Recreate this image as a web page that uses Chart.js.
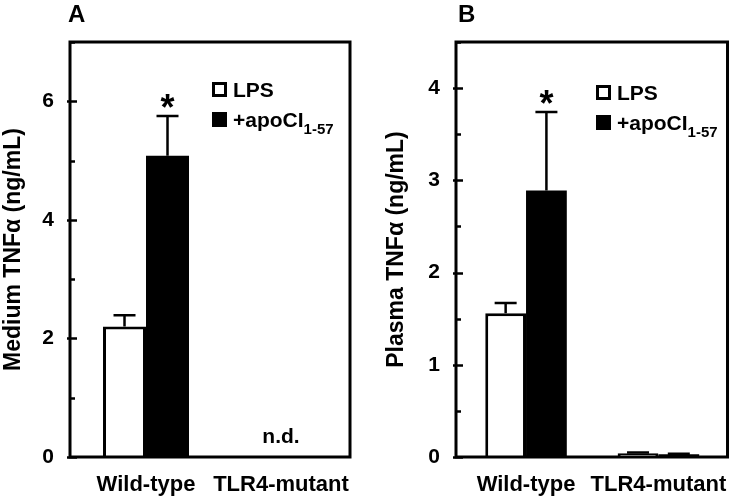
<!DOCTYPE html>
<html>
<head>
<meta charset="utf-8">
<script src="https://cdn.jsdelivr.net/npm/chart.js@4.4.0/dist/chart.umd.min.js"></script>
<style>
  body { margin: 0; background: #fff; }
  #wrap { position: relative; width: 742px; height: 497px; }
  canvas { position: absolute; top: 0; }
  #cA { left: 0; }
  #cB { left: 371px; }
</style>
</head>
<body>
<div id="wrap">
  <canvas id="cA" width="371" height="497"></canvas>
  <canvas id="cB" width="371" height="497"></canvas>
</div>
<script>
//data
var categories = ["Wild-type", "TLR4-mutant"];
var categoryPos = [0, 1];
var seriesNames = ["LPS", "+apoCI"];
var seriesSub = ["", "1-57"];

//panel A: medium TNFa (ng/mL)
var mediumLps = [2.2, 0];
var mediumLpsErr = [0.19, 0];
var mediumApo = [5.08, 0];
var mediumApoErr = [0.67, 0];

//panel B: plasma TNFa (ng/mL)
var plasmaLps = [1.56, 0.04];
var plasmaLpsErr = [0.11, 0.01];
var plasmaApo = [2.89, 0.03];
var plasmaApoErr = [0.85, 0.005];

var FONT = "'Liberation Sans', Arial, sans-serif";

//pair category positions with values
toPoints = function( vals ){
    return vals.map(function( v, i ){ return { x: categoryPos[i], y: v }; });
}

//draws box, tick marks, error bars, asterisks, legend and panel letter
var panelPlugin = {
    id: "panel",
    afterDatasetsDraw: function( chart, args, opts ){
        var ctx = chart.ctx, area = chart.chartArea;
        var y = chart.scales.y, x = chart.scales.x;
        ctx.save();

        //error bars (upper only)
        ctx.strokeStyle = "#000";
        ctx.lineWidth = 2.5;
        chart.data.datasets.forEach(function( ds, di ){
            var meta = chart.getDatasetMeta( di );
            meta.data.forEach(function( bar, i ){
                var err = ds.errors[i];
                if( !err || !ds.values[i] ) return;
                var top = y.getPixelForValue( ds.values[i] + err );
                ctx.beginPath();
                ctx.moveTo( bar.x, bar.y );
                ctx.lineTo( bar.x, top );
                ctx.moveTo( bar.x - 11, top );
                ctx.lineTo( bar.x + 11, top );
                ctx.stroke();
            });
        });

        //asterisks
        ctx.fillStyle = "#000";
        ctx.textAlign = "center";
        ctx.textBaseline = "alphabetic";
        ctx.font = "bold 36px " + FONT;
        opts.stars.forEach(function( s ){
            var ds = chart.data.datasets[s[0]];
            var bar = chart.getDatasetMeta( s[0] ).data[s[1]];
            var top = y.getPixelForValue( ds.values[s[1]] + ds.errors[s[1]] );
            ctx.fillText( "*", bar.x, top + 4 );
        });

        //n.d. label
        if( opts.nd ){
            ctx.font = "bold 21px " + FONT;
            ctx.fillText( "n.d.", x.getPixelForValue( categoryPos[1] ), y.getPixelForValue( 0 ) - 14 );
        }

        //plot box
        ctx.lineWidth = 3;
        ctx.strokeRect( area.left, area.top, area.right - area.left, area.bottom - area.top );

        //tick marks pointing inward
        ctx.lineWidth = 2.5;
        y.ticks.forEach(function( t ){
            var py = Math.round( y.getPixelForValue( t.value ) ) + 0.5;
            var major = t.label !== "";
            ctx.beginPath();
            ctx.moveTo( area.left - ( major ? 3 : 0 ), py );
            ctx.lineTo( area.left + ( major ? 7 : 5 ), py );
            ctx.stroke();
        });

        //legend
        var lx = opts.legendX, ly = opts.legendY;
        ctx.lineWidth = 3;
        ctx.strokeRect( lx + 1.5, ly + 1.5, 12, 12 );
        ctx.fillRect( lx, ly + 30, 15, 15 );
        ctx.textAlign = "left";
        ctx.font = "bold 21px " + FONT;
        ctx.fillText( seriesNames[0], lx + 21, ly + 15 );
        ctx.fillText( seriesNames[1], lx + 21, ly + 45 );
        var w = ctx.measureText( seriesNames[1] ).width;
        ctx.font = "bold 15px " + FONT;
        ctx.fillText( seriesSub[1], lx + 21 + w, ly + 52 );

        //panel letter
        ctx.font = "bold 24px " + FONT;
        ctx.fillText( opts.letter, opts.letterX, 22 );

        ctx.restore();
    }
};

//build one panel
makePanel = function( id, lps, lpsErr, apo, apoErr, yMax, yStep, yTitle, layout, panel ){
    return new Chart( document.getElementById( id ).getContext( "2d" ), {
        type: "bar",
        data: {
            datasets: [{
                label: seriesNames[0],
                data: toPoints( lps ),
                values: lps,
                errors: lpsErr,
                backgroundColor: "#fff",
                borderColor: "#000",
                borderWidth: 3
            },{
                label: seriesNames[1],
                data: toPoints( apo ),
                values: apo,
                errors: apoErr,
                backgroundColor: "#000",
                borderColor: "#000",
                borderWidth: 0
            }]
        },
        options: {
            responsive: false,
            animation: false,
            events: [],
            layout: { padding: { left: layout.padLeft, top: 42, right: layout.padRight, bottom: 0 } },
            datasets: { bar: { barPercentage: 1, categoryPercentage: layout.groupPct } },
            plugins: {
                legend: { display: false },
                tooltip: { enabled: false },
                panel: panel
            },
            scales: {
                x: {
                    type: "linear",
                    offset: false,
                    min: layout.xMin,
                    max: layout.xMax,
                    grid: { display: false, drawTicks: false, offset: false },
                    border: { display: false },
                    afterBuildTicks: function( s ){
                        s.ticks = categoryPos.map(function( v ){ return { value: v }; });
                    },
                    ticks: {
                        color: "#000",
                        padding: 15,
                        autoSkip: false,
                        minRotation: 0,
                        maxRotation: 0,
                        font: { family: FONT, size: 22, weight: "bold" },
                        callback: function( v ){ return categories[categoryPos.indexOf( v )]; }
                    },
                    afterFit: function( s ){ s.height = 40; }
                },
                y: {
                    min: 0,
                    max: yMax,
                    grid: { display: false, drawTicks: false },
                    border: { display: false },
                    ticks: {
                        stepSize: yStep,
                        autoSkip: false,
                        color: "#000",
                        padding: 16,
                        font: { family: FONT, size: 21, weight: "bold" },
                        callback: function( v ){ return ( v % layout.labelEvery === 0 ) ? v : ""; }
                    },
                    title: {
                        display: true,
                        text: yTitle,
                        color: "#000",
                        padding: { top: layout.titlePad, bottom: 0 },
                        font: { family: FONT, size: 23, weight: "bold" }
                    },
                    afterFit: function( s ){ s.width = layout.yWidth; }
                }
            }
        },
        plugins: [ panelPlugin ]
    });
}

makePanel( "cA", mediumLps, mediumLpsErr, mediumApo, mediumApoErr, 7, 1, "Medium TNF\u03b1 (ng/mL)",
    { padLeft: 0, padRight: 21, yWidth: 70, titlePad: 0, labelEvery: 2, xMin: -0.563, xMax: 1.511, groupPct: 0.637 },
    { letter: "A", letterX: 68, stars: [[1, 0]], nd: true, legendX: 212, legendY: 82 } );

makePanel( "cB", plasmaLps, plasmaLpsErr, plasmaApo, plasmaApoErr, 4.5, 0.5, "Plasma TNF\u03b1 (ng/mL)",
    { padLeft: 0, padRight: 3, yWidth: 85, titlePad: 12, labelEvery: 1, xMin: -0.529, xMax: 1.522, groupPct: 0.616 },
    { letter: "B", letterX: 87, stars: [[1, 0]], nd: false, legendX: 225, legendY: 85 } );
</script>
</body>
</html>
